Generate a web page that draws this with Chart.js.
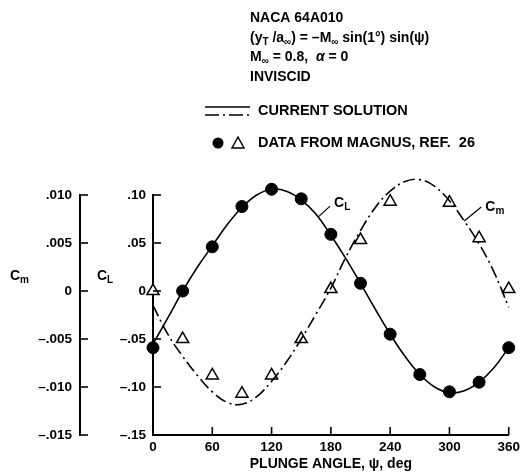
<!DOCTYPE html>
<html>
<head>
<meta charset="utf-8">
<script src="https://cdn.jsdelivr.net/npm/chart.js@4"></script>
<style>
  body { margin: 0; background: #fff; }
</style>
</head>
<body>
<canvas id="plungeChart" width="524" height="474"></canvas>
<script>
// measured points (Magnus, ref. 26)
let pointAngles = [0, 30, 60, 90, 120, 150, 180, 210, 240, 270, 300, 330, 360];
let clPoints = [-0.059, 0.000, 0.046, 0.088, 0.106, 0.096, 0.059, 0.008, -0.045, -0.087, -0.105, -0.095, -0.059];
let cmPoints = [0.0000, -0.0050, -0.0088, -0.0107, -0.0088, -0.0050, 0.0002, 0.0053, 0.0093, 0.0109, 0.0092, 0.0055, 0.0002];

// current solution
let curveAngles = [0, 15, 30, 45, 60, 75, 90, 105, 120, 135, 150, 165, 180, 195, 210, 225, 240, 255, 270, 285, 300, 315, 330, 345, 360];
let clCurve = [-0.055, -0.028, 0.000, 0.025, 0.047, 0.069, 0.087, 0.100, 0.106, 0.104, 0.095, 0.080, 0.058, 0.034, 0.008, -0.019, -0.045, -0.068, -0.087, -0.100, -0.106, -0.104, -0.095, -0.080, -0.059];
let cmCurve = [-0.0015, -0.0045, -0.0068, -0.0088, -0.0105, -0.0116, -0.0118, -0.0110, -0.0094, -0.0074, -0.0050, -0.0024, 0.0003, 0.0035, 0.0063, 0.0087, 0.0104, 0.0114, 0.0116, 0.0109, 0.0094, 0.0073, 0.0049, 0.0020, -0.0017];

let angleTicks = [0, 60, 120, 180, 240, 300, 360];
let clTicks = [-0.15, -0.10, -0.05, 0, 0.05, 0.10];
let clTickLabels = ['\u2013.15', '\u2013.10', '\u2013.05', '0', '.05', '.10'];
let cmTicks = [-0.015, -0.010, -0.005, 0, 0.005, 0.010];
let cmTickLabels = ['\u2013.015', '\u2013.010', '\u2013.005', '0', '.005', '.010'];

const FONT = '"Liberation Sans", Arial, sans-serif';

function pairs(xs, ys) {
    return xs.map((x, i) => ({ x: x, y: ys[i] }));
}

// text with subscripts: parts = [[text, isSub, style], ...]
function richText(ctx, x, y, parts, size, weight) {
    parts.forEach(p => {
        let s = p[1] ? Math.round(size * 0.72) : size;
        ctx.font = (p[2] || '') + ' ' + (weight || 'bold') + ' ' + s + 'px ' + FONT;
        ctx.fillText(p[0], x, y + (p[1] ? size * 0.32 : 0));
        x += ctx.measureText(p[0]).width;
    });
    return x;
}

function line(ctx, x1, y1, x2, y2, w) {
    ctx.lineWidth = w;
    ctx.beginPath();
    ctx.moveTo(x1, y1);
    ctx.lineTo(x2, y2);
    ctx.stroke();
}

const decorations = {
    id: 'decorations',
    afterDraw(chart) {
        let ctx = chart.ctx;
        let xs = chart.scales.x, yL = chart.scales.yL, yM = chart.scales.yM;
        ctx.save();
        ctx.strokeStyle = '#000';
        ctx.fillStyle = '#000';
        ctx.setLineDash([]);

        // tick marks point inward
        cmTicks.forEach(v => {
            let y = yM.getPixelForValue(v);
            line(ctx, yM.right, y, yM.right + 8, y, 1.6);
        });
        clTicks.forEach(v => {
            let y = yL.getPixelForValue(v);
            line(ctx, yL.right, y, yL.right + 8, y, 1.6);
        });
        angleTicks.forEach(v => {
            let x = xs.getPixelForValue(v);
            line(ctx, x, xs.top, x, xs.top - 8, 1.6);
        });

        ctx.textBaseline = 'middle';
        ctx.textAlign = 'left';
        let midY = yL.getPixelForValue(0.0) - 15;
        richText(ctx, yM.left + 10, midY, [['C', 0], ['m', 1]], 14);
        richText(ctx, yL.left + 17, midY, [['C', 0], ['L', 1]], 14);

        // header block
        let hx = 250;
        richText(ctx, hx, 18, [['NACA 64A010', 0]], 14);
        richText(ctx, hx, 38, [['(y', 0], ['T', 1], [' /a', 0], ['\u221e', 1], [') = \u2013M', 0], ['\u221e', 1], [' sin(1\u00b0) sin(\u03c8)', 0]], 14);
        richText(ctx, hx, 57, [['M', 0], ['\u221e', 1], [' = 0.8,  ', 0], ['\u03b1', 0, 'italic'], [' = 0', 0]], 14);
        richText(ctx, hx, 77, [['INVISCID', 0]], 14);

        // legend: solid over dash-dot
        line(ctx, 205, 107, 250, 107, 1.6);
        ctx.setLineDash([14, 4, 2, 4]);
        line(ctx, 205, 115, 250, 115, 1.6);
        ctx.setLineDash([]);
        richText(ctx, 258, 111, [['CURRENT SOLUTION', 0]], 14.5);

        ctx.beginPath();
        ctx.arc(218, 143, 5.5, 0, Math.PI * 2);
        ctx.fill();
        ctx.lineWidth = 1.5;
        ctx.beginPath();
        ctx.moveTo(238, 137);
        ctx.lineTo(244, 148);
        ctx.lineTo(232, 148);
        ctx.closePath();
        ctx.stroke();
        richText(ctx, 258, 143, [['DATA FROM MAGNUS, REF.  26', 0]], 14.5);

        // curve callouts
        let lx = xs.getPixelForValue(167), ly = yL.getPixelForValue(0.077);
        line(ctx, lx, ly, lx + 12, ly - 11, 1.2);
        richText(ctx, lx + 16, ly - 14, [['C', 0], ['L', 1]], 14);
        let mx = xs.getPixelForValue(315), my = yM.getPixelForValue(0.0073);
        line(ctx, mx, my, mx + 17, my - 14, 1.2);
        richText(ctx, mx + 21, my - 14, [['C', 0], ['m', 1]], 14);

        ctx.restore();
    }
};

let tickFont = { family: FONT, size: 13.5, weight: 'bold' };

let plungeChart = new Chart(document.getElementById('plungeChart'), {
    type: 'line',
    data: {
        datasets: [
            {
                label: 'CL current solution',
                data: pairs(curveAngles, clCurve),
                yAxisID: 'yL',
                borderColor: '#000',
                borderWidth: 1.6,
                pointRadius: 0,
                tension: 0.4,
                clip: false
            },
            {
                label: 'Cm current solution',
                data: pairs(curveAngles, cmCurve),
                yAxisID: 'yM',
                borderColor: '#000',
                borderWidth: 1.6,
                borderDash: [12, 4, 2, 4],
                pointRadius: 0,
                tension: 0.4,
                clip: false
            },
            {
                label: 'CL Magnus',
                data: pairs(pointAngles, clPoints),
                yAxisID: 'yL',
                showLine: false,
                pointStyle: 'circle',
                pointRadius: 6,
                backgroundColor: '#000',
                borderColor: '#000',
                clip: false
            },
            {
                label: 'Cm Magnus',
                data: pairs(pointAngles, cmPoints),
                yAxisID: 'yM',
                showLine: false,
                pointStyle: 'triangle',
                pointRadius: 7,
                pointBorderWidth: 1.5,
                backgroundColor: '#fff',
                borderColor: '#000',
                clip: false
            }
        ]
    },
    options: {
        responsive: false,
        animation: false,
        layout: { padding: { top: 195, right: 9, left: 0, bottom: 0 } },
        plugins: {
            legend: { display: false },
            tooltip: { enabled: false }
        },
        scales: {
            x: {
                type: 'linear',
                min: 0,
                max: 360,
                afterBuildTicks: s => { s.ticks = angleTicks.map(v => ({ value: v })); },
                afterFit: s => { s.height = 39; },
                ticks: { color: '#000', font: tickFont, padding: 4, maxRotation: 0 },
                grid: { display: false, drawTicks: false },
                border: { display: true, color: '#000', width: 2 },
                title: {
                    display: true,
                    text: 'PLUNGE ANGLE, \u03c8, deg',
                    color: '#000',
                    font: { family: FONT, size: 14, weight: 'bold' },
                    padding: { top: 0, bottom: 1 }
                }
            },
            yL: {
                type: 'linear',
                position: 'left',
                weight: 0,
                min: -0.15,
                max: 0.10,
                afterBuildTicks: s => { s.ticks = clTicks.map(v => ({ value: v })); },
                afterFit: s => { s.width = 73; },
                ticks: {
                    color: '#000',
                    font: tickFont,
                    padding: 7,
                    callback: (v, i) => clTickLabels[i]
                },
                grid: { display: false, drawTicks: false },
                border: { display: true, color: '#000', width: 2 }
            },
            yM: {
                type: 'linear',
                position: 'left',
                weight: 1,
                min: -0.015,
                max: 0.010,
                afterBuildTicks: s => { s.ticks = cmTicks.map(v => ({ value: v })); },
                afterFit: s => { s.width = 80; },
                ticks: {
                    color: '#000',
                    font: tickFont,
                    padding: 8,
                    callback: (v, i) => cmTickLabels[i]
                },
                grid: { display: false, drawTicks: false },
                border: { display: true, color: '#000', width: 2 }
            }
        }
    },
    plugins: [decorations]
});
</script>
</body>
</html>
